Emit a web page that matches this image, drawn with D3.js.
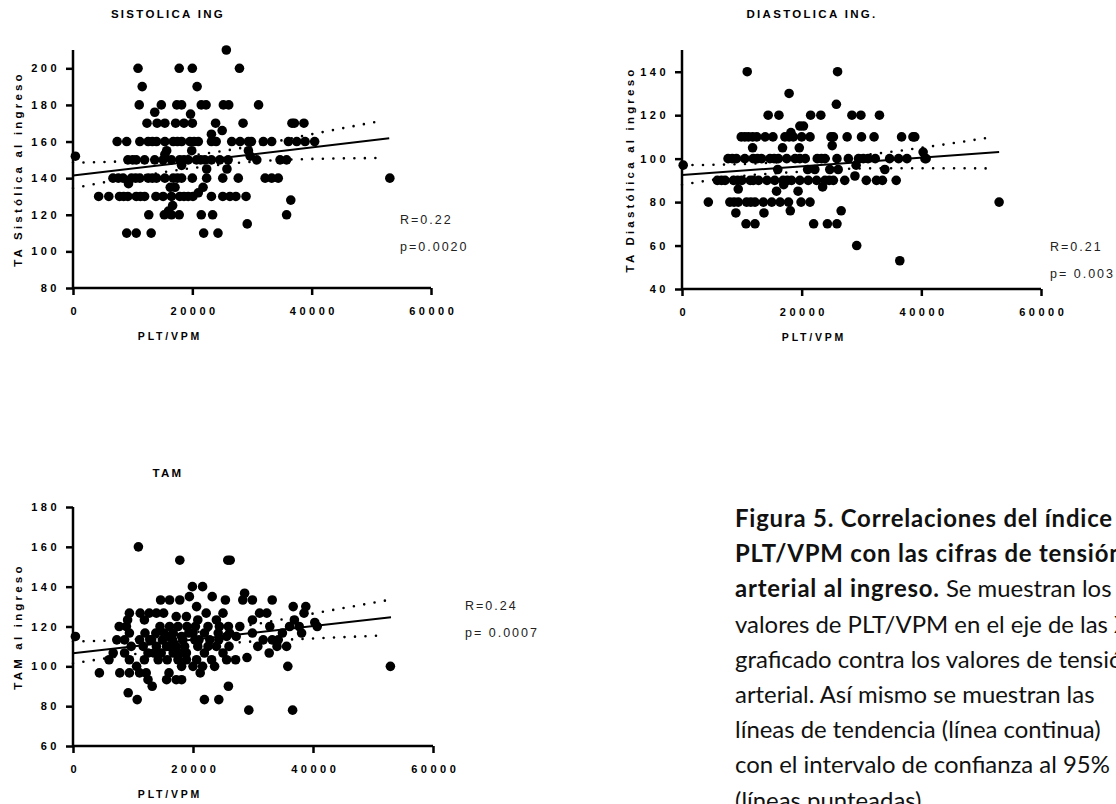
<!DOCTYPE html>
<html>
<head>
<meta charset="utf-8">
<script src="https://cdn.jsdelivr.net/npm/d3@7"></script>
<style>
  body { margin: 0; background: #fff; }
  svg { display: block; }
</style>
</head>
<body>
<script>
// ---- data ----
const sistolica = [
  [25700,210],
  [10900,200],[17800,200],[20000,200],[27900,200],
  [11600,190],[20800,190],
  [11100,180],[14800,180],[17400,180],[18200,180],[21500,180],[22300,180],[25200,180],[26100,180],[31100,180],
  [13700,176],[19700,175],
  [12400,170],[14100,170],[15400,170],[17200,170],[18600,170],[20000,170],[23900,170],[28500,170],[36700,170],[37100,170],[38700,170],
  [25000,166],[23200,164],
  [7400,160],[9000,160],[11200,160],[12600,160],[14000,160],[15400,160],[16800,160],[18200,160],[19600,160],[21000,160],
  [23200,160],[24000,160],[26600,160],[28000,160],[29400,160],[29900,160],[31900,160],[33300,160],[36100,160],[37500,160],
  [38900,160],[40500,160],[13300,160],[17500,160],[20300,160],
  [15700,155],[19900,155],[29400,155],[15400,153],[29700,152],[400,152],
  [9200,150],[10600,150],[12000,150],[13700,150],[15100,150],[16500,150],[17900,150],[19300,150],[20700,150],[22100,150],
  [23200,150],[24600,150],[26000,150],[30800,150],[34700,150],[35800,150],[18600,150],[21400,150],[10000,150],
  [22400,145],[25800,145],[18200,147],
  [6700,140],[8400,140],[9800,140],[11200,140],[12600,140],[14000,140],[15400,140],[16800,140],[18200,140],[20000,140],
  [22400,140],[25100,140],[27700,140],[32200,140],[33300,140],[34400,140],[53100,140],[7600,140],[10500,140],[13300,140],[17500,140],
  [9300,137],[17100,135],[21800,135],[21000,132],[16300,135],
  [4300,130],[6000,130],[7800,130],[9200,130],[10600,130],[12000,130],[13900,130],[15100,130],[16500,130],[17900,130],
  [19300,130],[20100,130],[23200,130],[25100,130],[26300,130],[27300,130],[29000,130],[8500,130],[11300,130],[18600,130],
  [36500,128],[16700,125],
  [12700,120],[15300,120],[16500,120],[17800,120],[21500,120],[23400,120],[35800,120],[16000,122],
  [29200,115],
  [9000,110],[10600,110],[13100,110],[21900,110],[24300,110]
];
const sisFit = [[0,141.5],[53000,161.8]];
const sisUpper = [[0,148.5],[10000,149.5],[20000,152.5],[30000,157.5],[40000,164],[52000,171.5]];
const sisLower = [[0,134.5],[10000,140.5],[20000,145.5],[30000,149],[40000,150.5],[52000,151]];

const diastolica = [
  [10900,140],[26000,140],
  [17900,130],[25800,125],
  [14400,120],[16200,120],[21500,120],[23200,120],[28400,120],[29900,120],[33000,120],
  [19700,115],[20300,115],[18200,112],
  [9900,110],[11100,110],[12500,110],[13900,110],[15200,110],[17200,110],[18600,110],[20000,110],[21400,110],[24900,110],
  [25300,110],[27600,110],[30000,110],[32100,110],[36700,110],[38600,110],[38900,110],[10500,110],[11800,110],[17900,110],
  [25100,106],[11800,105],[16800,105],[19600,105],[40300,103],
  [7700,100],[9100,100],[10500,100],[11900,100],[13300,100],[14700,100],[16100,100],[17500,100],[18900,100],[20600,100],
  [23300,100],[23900,100],[25900,100],[27800,100],[29500,100],[31100,100],[32300,100],[34700,100],[36200,100],[37600,100],
  [40600,100],[8400,100],[12600,100],[15400,100],[19700,100],[22600,100],[30300,100],
  [200,97],[29100,97],[40800,100],
  [21000,95],[22200,95],[24700,95],[26100,95],[33900,95],[16000,95],
  [28900,92],
  [5900,90],[7200,90],[8600,90],[10000,90],[11400,90],[12800,90],[14200,90],[15500,90],[16900,90],[18300,90],
  [19700,90],[21100,90],[22500,90],[23900,90],[25300,90],[27200,90],[30800,90],[32500,90],[33500,90],[35800,90],
  [6600,90],[9300,90],[11900,90],[17600,90],[24600,90],
  [23500,87],[9400,86],[15800,85],[19400,85],[17000,88],
  [4400,80],[8000,80],[9400,80],[10800,80],[12200,80],[13600,80],[15000,80],[16400,80],[17800,80],[19900,80],
  [21400,80],[53000,80],[8700,80],[11500,80],
  [18100,76],[26600,76],[9000,75],[13700,75],
  [10700,70],[12200,70],[22000,70],[24300,70],[25900,70],
  [29200,60],[36400,53]
];
const diaFit = [[0,92.5],[53000,103]];
const diaUpper = [[0,97],[10000,97.5],[20000,99],[30000,101.5],[40000,105],[52000,110]];
const diaLower = [[0,88],[10000,92],[20000,94],[30000,95.5],[40000,95.6],[52000,95.5]];

const tam = [
  [10900,160],
  [17800,153.3],[25800,153.3],[26200,153.3],
  [19900,140],[21600,140],[28600,136.7],[19400,135],[23200,135],
  [14600,133.3],[16100,133.3],[17800,133.3],[25400,133.3],[28300,133.3],[29900,133.3],[33200,133.3],
  [20600,130],[36700,130],[38800,130],
  [9400,126.7],[11200,126.7],[12700,126.7],[13900,126.7],[15100,126.7],[22200,126.7],[25000,126.7],[31100,126.7],[32300,126.7],[38500,126.7],
  [17200,125],[18900,125],
  [9100,123.3],[11900,123.3],[20800,123.3],[23900,123.3],[29900,123.3],[36900,123.3],
  [40300,122],
  [7700,120],[8900,120],[16100,120],[17500,120],[20400,120],[22500,120],[24400,120],[25900,120],[27800,120],[32800,120],
  [36100,120],[37700,120],[40700,120],
  [9400,116.7],[13800,116.7],[16700,116.7],[19300,116.7],[21900,116.7],[24200,116.7],[26100,116.7],[29900,116.7],[34900,116.7],[38100,116.7],
  [400,115],[15600,115],[18100,115],[25600,115],[27200,115],
  [7300,113.3],[8600,113.3],[11100,113.3],[13100,113.3],[14900,113.3],[16600,113.3],[18300,113.3],[20300,113.3],[22800,113.3],
  [24300,113.3],[31700,113.3],[33200,113.3],[34200,113.3],
  [9700,110],[11700,110],[13900,110],[15600,110],[17200,110],[18600,110],[20800,110],[22500,110],[23900,110],[26000,110],
  [30800,110],[34000,110],[35600,110],
  [6700,106.7],[8600,106.7],[12500,106.7],[14700,106.7],[16700,106.7],[18900,106.7],[21900,106.7],[25000,106.7],[32700,106.7],
  [6000,103.3],[9400,103.3],[11900,103.3],[14200,103.3],[15700,103.3],[17500,103.3],[18900,103.3],[20600,103.3],[23100,103.3],
  [25600,103.3],[27100,103.3],[29000,104.4],
  [10600,100],[18100,100],[20000,100],[21600,100],[23600,100],[35800,100],[52900,100],
  [4400,96.7],[7800,96.7],[9400,96.7],[11100,96.7],[12200,96.7],[16000,96.7],[21200,96.7],
  [12500,93.3],[15600,93.3],[17200,93.3],[18100,93.3],
  [13200,90],[25900,90],[9200,86.7],[10700,83.3],[21900,83.3],[24300,83.3],[29300,78],[36600,78],
  [12000,116.7],[14500,120],[16000,110],[19000,120],[12800,113.3],[17800,106.7],[15200,116.7],[20000,116.7],[13500,106.7],[21000,113.3]
];
const tamFit = [[0,106.6],[53000,124.7]];
const tamUpper = [[0,112.5],[10000,113.5],[20000,117],[30000,121],[40000,126.5],[52000,133]];
const tamLower = [[0,101.5],[10000,106],[20000,110],[30000,112.5],[40000,114],[52000,115.5]];

const xTicks = [0, 20000, 40000, 60000];
const sisTicks = [80, 100, 120, 140, 160, 180, 200];
const diaTicks = [40, 60, 80, 100, 120, 140];
const tamTicks = [60, 80, 100, 120, 140, 160, 180];

const captionLines = [
  [["Figura 5. Correlaciones del índice", true]],
  [["PLT/VPM con las cifras de tensión", true]],
  [["arterial al ingreso.", true], [" Se muestran los", false]],
  [["valores de PLT/VPM en el eje de las X", false]],
  [["graficado contra los valores de tensión", false]],
  [["arterial. Así mismo se muestran las", false]],
  [["líneas de tendencia (línea continua)", false]],
  [["con el intervalo de confianza al 95%", false]],
  [["(líneas punteadas)", false]]
];

// ---- drawing ----
const width = 1116, height = 804;
const svg = d3.select("body").append("svg")
  .attr("width", width)
  .attr("height", height);

const FONT = "Arial, 'Liberation Sans', sans-serif";

function drawPanel(c) {
  const x = d3.scaleLinear().domain([0, 60000]).range([c.x0, c.x1]);
  const y = d3.scaleLinear().domain(c.yDomain).range([c.yBot, c.yTop]);
  const g = svg.append("g");

  // title
  g.append("text")
    .attr("x", c.titleX)
    .attr("y", c.titleY)
    .attr("text-anchor", "middle")
    .attr("font-family", FONT)
    .attr("font-weight", "bold")
    .attr("font-size", 11.5)
    .attr("letter-spacing", 2.3)
    .text(c.title);

  // dotted confidence bands
  const band = d3.line().x(d => x(d[0])).y(d => y(d[1])).curve(d3.curveMonotoneX);
  [c.upper, c.lower].forEach(b => {
    g.append("path")
      .attr("d", band(b))
      .attr("fill", "none")
      .attr("stroke", "#000")
      .attr("stroke-width", 2.6)
      .attr("stroke-linecap", "round")
      .attr("stroke-dasharray", "0,10.5");
  });

  // points
  g.append("g").selectAll("circle")
    .data(c.pts)
    .join("circle")
    .attr("cx", d => x(d[0]))
    .attr("cy", d => y(d[1]))
    .attr("r", 4.8)
    .attr("fill", "#000");

  // fit line
  g.append("path")
    .attr("d", d3.line().x(d => x(d[0])).y(d => y(d[1]))(c.fit))
    .attr("fill", "none")
    .attr("stroke", "#000")
    .attr("stroke-width", 2);

  // axes
  const xAxis = g.append("g")
    .attr("transform", `translate(0,${c.yBot})`)
    .call(d3.axisBottom(x).tickValues(xTicks).tickSize(7).tickPadding(10).tickFormat(d3.format("d")));
  const yAxis = g.append("g")
    .attr("transform", `translate(${c.x0},0)`)
    .call(d3.axisLeft(y).tickValues(c.yTicks).tickSize(7).tickPadding(6).tickFormat(d3.format("d")));

  [xAxis, yAxis].forEach(a => {
    a.select(".domain").attr("stroke-width", 2.5).attr("stroke", "#000");
    a.selectAll(".tick line").attr("stroke-width", 2.5).attr("stroke", "#000");
    a.selectAll(".tick text")
      .attr("font-family", FONT)
      .attr("font-weight", "bold")
      .attr("font-size", 11)
      .attr("letter-spacing", 3.5)
      .attr("fill", "#000");
  });
  xAxis.select(".domain").attr("d", `M${c.x0},0H${c.x1}`);
  yAxis.select(".domain").attr("d", `M0,${c.yBot + 1.2}V${c.yTop}`);
  xAxis.selectAll(".tick text").attr("dx", 1.75).attr("dy", "0.9em");

  // axis titles
  g.append("text")
    .attr("x", c.titleX + 2)
    .attr("y", c.yBot + 52)
    .attr("text-anchor", "middle")
    .attr("font-family", FONT)
    .attr("font-weight", "bold")
    .attr("font-size", 10.5)
    .attr("letter-spacing", 2.8)
    .text("PLT/VPM");

  g.append("text")
    .attr("transform", `translate(${c.ylabX},${(c.yTop + c.yBot) / 2}) rotate(-90)`)
    .attr("text-anchor", "middle")
    .attr("font-family", FONT)
    .attr("font-weight", "bold")
    .attr("font-size", 11.5)
    .attr("letter-spacing", 3.2)
    .text(c.ylab);

  // R and p
  [c.r, c.p].forEach((t, i) => {
    g.append("text")
      .attr("x", c.statX)
      .attr("y", c.statY + i * 27)
      .attr("font-family", FONT)
      .attr("font-size", 12.5)
      .attr("letter-spacing", 2)
      .attr("fill", "#222")
      .text(t);
  });
}

drawPanel({
  title: "SISTOLICA ING", titleX: 168, titleY: 18, ylab: "TA Sistólica al ingreso", ylabX: 22,
  x0: 73, x1: 431, yTop: 50, yBot: 288, yDomain: [80, 210], yTicks: sisTicks,
  pts: sistolica, fit: sisFit, upper: sisUpper, lower: sisLower,
  r: "R=0.22", p: "p=0.0020", statX: 400, statY: 224
});
drawPanel({
  title: "DIASTOLICA ING.", titleX: 812, titleY: 18, ylab: "TA Diastólica al ingreso", ylabX: 634,
  x0: 682, x1: 1041, yTop: 50, yBot: 289, yDomain: [40, 150], yTicks: diaTicks,
  pts: diastolica, fit: diaFit, upper: diaUpper, lower: diaLower,
  r: "R=0.21", p: "p=  0.003", statX: 1050, statY: 251
});
drawPanel({
  title: "TAM", titleX: 168, titleY: 477, ylab: "TAM al ingreso", ylabX: 22,
  x0: 73, x1: 433, yTop: 507, yBot: 746, yDomain: [60, 180], yTicks: tamTicks,
  pts: tam, fit: tamFit, upper: tamUpper, lower: tamLower,
  r: "R=0.24", p: "p= 0.0007", statX: 465, statY: 610
});

// caption, sized so one full line spans the same width as in the figure
const CAP_FONT = "Lato, 'Open Sans', sans-serif";
const probe = svg.append("text")
  .attr("font-family", CAP_FONT).attr("font-size", 100)
  .text(captionLines[6][0][0]);
const capSize = 100 * 366 / probe.node().getComputedTextLength();
probe.remove();

const cap = svg.append("text")
  .attr("font-family", CAP_FONT)
  .attr("font-size", capSize)
  .attr("fill", "#111");
captionLines.forEach((line, i) => {
  line.forEach((seg, j) => {
    const t = cap.append("tspan")
      .attr("font-weight", seg[1] ? "bold" : "normal")
      .attr("letter-spacing", seg[1] ? 0.8 : 0)
      .style("white-space", "pre")
      .text(seg[0]);
    if (j === 0) t.attr("x", 735).attr("y", 527 + i * 35.2);
  });
});
</script>
</body>
</html>
